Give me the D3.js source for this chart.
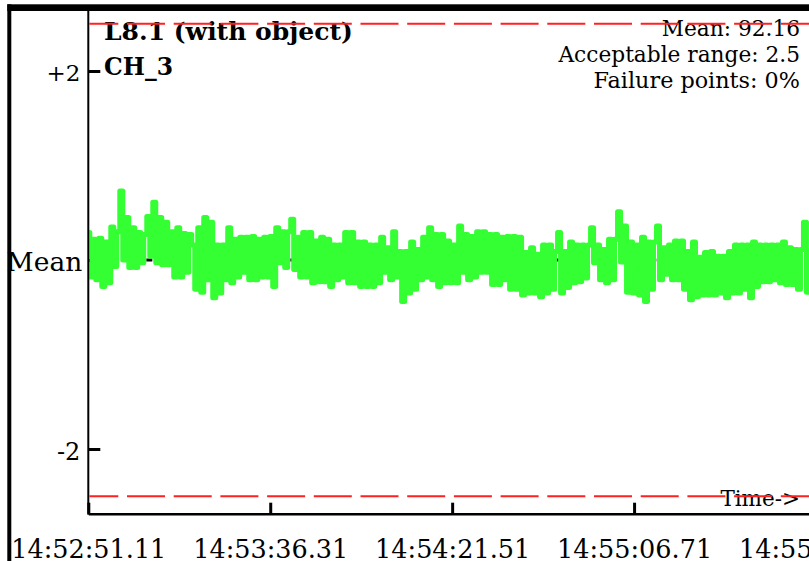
<!DOCTYPE html>
<html>
<head>
<meta charset="utf-8">
<script src="https://cdn.jsdelivr.net/npm/d3@7/dist/d3.min.js"></script>
<style>
  html, body { margin: 0; padding: 0; background: #fff; }
  svg { display: block; }
  text { font-family: "DejaVu Serif", serif; fill: #000; }
</style>
</head>
<body>
<svg id="chart" width="809" height="561"></svg>
<script>
// ---------- data ----------
const titleLines = ["L8.1 (with object)", "CH_3"];
const meanValue = 92.16;
const acceptableRange = 2.5;
const failurePercent = 0;
const tickLabels = ["14:52:51.11", "14:53:36.31", "14:54:21.51", "14:55:06.71", "14:55:51.91"];
const tickSeconds = [0, 45.2, 90.4, 135.6, 180.8];
const yTickValues = [2, 0, -2];
const yTickLabels = ["+2", "Mean", "-2"];
const sampleInterval = 0.745; // seconds between samples
// deviation from the mean
const deviation = [
  0.29,-0.18,0.22,-0.21,0.23,-0.28,0.19,-0.24,0.35,-0.07,0.30,0.73,0.00,0.45,-0.08,0.34,
  -0.08,0.29,-0.03,0.27,0.46,0.04,0.61,-0.03,0.45,-0.05,0.40,-0.05,0.30,-0.18,0.34,-0.18,
  0.28,-0.13,0.27,0.16,-0.31,0.34,-0.34,0.45,-0.21,0.40,-0.40,0.16,-0.35,0.16,-0.21,0.34,
  -0.24,0.22,-0.18,0.24,-0.13,0.24,-0.21,0.25,-0.21,0.22,-0.18,0.24,-0.18,0.25,-0.28,0.34,
  -0.03,0.30,-0.08,0.30,0.43,-0.10,0.24,-0.18,0.29,-0.18,0.29,-0.24,0.20,-0.23,0.24,-0.23,
  0.22,-0.28,0.16,-0.21,0.16,-0.18,0.29,-0.24,0.29,-0.24,0.19,-0.28,0.19,-0.28,0.16,-0.28,
  0.16,-0.24,0.24,-0.13,0.13,-0.21,0.30,-0.18,0.09,-0.44,0.09,-0.35,0.19,-0.31,0.11,-0.21,
  0.24,-0.18,0.34,-0.21,0.27,-0.28,0.27,-0.24,0.20,-0.24,0.16,-0.24,0.36,-0.13,0.27,-0.21,
  0.25,-0.18,0.30,-0.13,0.30,-0.13,0.27,-0.26,0.27,-0.26,0.24,-0.21,0.25,-0.31,0.25,-0.31,
  0.24,-0.37,0.08,-0.35,0.13,-0.35,0.06,-0.39,0.16,-0.35,0.16,-0.31,0.09,0.29,-0.35,0.09,
  -0.29,0.19,-0.24,0.16,-0.23,0.16,-0.19,0.16,0.34,-0.03,0.16,-0.21,0.11,-0.24,0.22,-0.21,
  0.22,0.51,-0.02,0.36,-0.34,0.19,-0.35,0.16,-0.37,0.24,-0.44,0.19,-0.31,0.19,0.36,
  -0.21,0.13,-0.15,0.16,-0.21,0.20,-0.21,0.20,-0.31,0.09,-0.42,0.19,-0.39,0.03,-0.37,0.08,
  -0.37,0.09,-0.37,0.04,-0.35,0.04,-0.40,0.09,-0.35,0.16,-0.35,0.16,-0.31,0.16,-0.40,0.19,
  -0.28,0.16,-0.23,0.16,-0.23,0.16,-0.21,0.16,-0.24,0.19,-0.26,0.13,-0.26,0.11,-0.31,0.11,
  0.40,-0.34,0.10
];

// ---------- layout ----------
const svg = d3.select("#chart");
const W = 809, H = 561;
const axisX = 88.3, axisY = 513.7;

const x = d3.scaleLinear().domain([0, 180.8]).range([axisX, 816]);
const y = d3.scaleLinear().domain([-2, 2]).range([449, 71]);

svg.append("rect").attr("width", W).attr("height", H).attr("fill", "#fff");

// outer frame (thick black)
svg.append("rect").attr("x", 7.3).attr("y", 4.3).attr("width", W).attr("height", 6.7).attr("fill", "#000");
svg.append("rect").attr("x", 7.3).attr("y", 4.3).attr("width", 4).attr("height", H).attr("fill", "#000");

// mean line (black dashed, mostly hidden)
svg.append("line")
  .attr("x1", axisX).attr("x2", W)
  .attr("y1", y(0)).attr("y2", y(0))
  .attr("stroke", "#000").attr("stroke-width", 3)
  .attr("stroke-dasharray", "6,18").attr("stroke-dashoffset", -34);

// y axis ticks
const yAxis = d3.axisLeft(y)
  .tickValues(yTickValues)
  .tickSizeInner(-12).tickSizeOuter(0)
  .tickFormat((d, i) => yTickLabels[i]);
const gy = svg.append("g").attr("transform", `translate(${axisX},0)`).call(yAxis);
gy.select(".domain").remove();
gy.selectAll(".tick line").attr("stroke", "#000").attr("stroke-width", 3);
gy.selectAll(".tick text")
  .attr("x", (d) => d === 0 ? -6 : -8)
  .attr("dy", (d) => d === 0 ? "0.38em" : "0.42em")
  .style("font-family", "'DejaVu Serif', serif")
  .style("font-size", (d) => d === 0 ? "26.5px" : (d > 0 ? "23px" : "24px"))
  .attr("fill", "#000");

// green trace
svg.append("clipPath").attr("id", "plotclip")
  .append("rect").attr("x", axisX + 1).attr("y", 12).attr("width", W).attr("height", axisY - 13);
const line = d3.line()
  .x((d, i) => x(i * sampleInterval))
  .y((d) => y(d))
  .curve(d3.curveStep);
svg.append("path")
  .datum(deviation)
  .attr("clip-path", "url(#plotclip)")
  .attr("d", line)
  .attr("fill", "none")
  .attr("stroke", "#33ff33")
  .attr("stroke-width", 5)
  .attr("stroke-linejoin", "round")
  .attr("stroke-linecap", "round");

// x axis
const xAxis = d3.axisBottom(x)
  .tickValues(tickSeconds)
  .tickSizeInner(-11).tickSizeOuter(0)
  .tickFormat((d, i) => tickLabels[i]);
const gx = svg.append("g").attr("transform", `translate(0,${axisY})`).call(xAxis);
gx.select(".domain").attr("stroke", "#000").attr("stroke-width", 2.5);
gx.selectAll(".tick line").attr("stroke", "#000").attr("stroke-width", 3);
gx.selectAll(".tick text")
  .attr("y", 44.5).attr("dy", 0)
  .style("font-family", "'DejaVu Serif', serif")
  .style("font-size", "25.5px")
  .attr("fill", "#000");

// vertical axis line
svg.append("line")
  .attr("x1", axisX).attr("x2", axisX)
  .attr("y1", 11).attr("y2", axisY + 1)
  .attr("stroke", "#000").attr("stroke-width", 2);

// title
svg.append("text").attr("x", 104).attr("y", 40)
  .style("font-weight", "bold").style("font-size", "25px").text(titleLines[0]);
svg.append("text").attr("x", 104).attr("y", 75)
  .style("font-weight", "bold").style("font-size", "23.5px").text(titleLines[1]);

// stats block
const stats = [
  `Mean: ${meanValue.toFixed(2)}`,
  `Acceptable range: ${acceptableRange}`,
  `Failure points: ${failurePercent}%`
];
svg.selectAll("text.stat").data(stats).enter().append("text")
  .attr("class", "stat")
  .attr("x", 800)
  .attr("y", (d, i) => [36, 62, 88][i])
  .attr("text-anchor", "end")
  .style("font-size", (d, i) => i === 2 ? "22.3px" : "21.7px")
  .text((d) => d);

// time label
svg.append("text").attr("x", 800).attr("y", 506)
  .attr("text-anchor", "end").style("font-size", "21.5px").text("Time->");

// acceptable range lines (red dashed)
[acceptableRange, -acceptableRange].forEach((v) => {
  svg.append("line")
    .attr("x1", axisX + 1).attr("x2", W)
    .attr("y1", y(v)).attr("y2", y(v))
    .attr("stroke", "#ff2020").attr("stroke-width", 2)
    .attr("stroke-dasharray", "38,8.7").attr("stroke-dashoffset", 9);
});
</script>
</body>
</html>
